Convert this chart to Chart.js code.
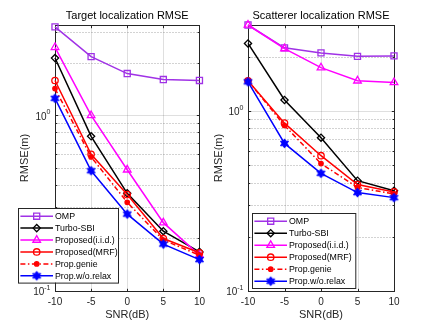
<!DOCTYPE html>
<html>
<head>
<meta charset="utf-8">
<script src="https://cdn.jsdelivr.net/npm/chart.js@4.4.0/dist/chart.umd.min.js"></script>
<style>
html, body { margin: 0; padding: 0; background: #fff; }
body { width: 436px; height: 327px; position: relative; overflow: hidden; }
canvas { position: absolute; top: 0; }
</style>
</head>
<body>
<canvas id="left" width="210" height="327" style="left:0"></canvas>
<canvas id="right" width="231" height="327" style="left:205px"></canvas>
<script>
// SNR (dB) on the x axis
const snr = [-10, -5, 0, 5, 10];
const xTickValues = [-10, -5, 0, 5, 10];
const yTickValues = [0.1, 1];
const seriesNames = ['OMP', 'Turbo-SBI', 'Proposed(i.i.d.)', 'Proposed(MRF)', 'Prop.genie', 'Prop.w/o.relax'];

// Target localization RMSE
const targetOmp = [3.19, 2.16, 1.73, 1.60, 1.58];
const targetTurbo = [2.12, 0.76, 0.36, 0.219, 0.167];
const targetIid = [2.44, 1.0, 0.49, 0.245, 0.16];
const targetMrf = [1.58, 0.60, 0.354, 0.199, 0.165];
const targetGenie = [1.42, 0.58, 0.32, 0.195, 0.16];
const targetRelax = [1.25, 0.484, 0.274, 0.185, 0.151];

// Scatterer localization RMSE
const scatOmp = [3.0, 2.24, 2.10, 2.01, 2.02];
const scatTurbo = [2.37, 1.15, 0.71, 0.41, 0.36];
const scatIid = [3.0, 2.22, 1.74, 1.47, 1.44];
const scatMrf = [1.47, 0.855, 0.564, 0.39, 0.355];
const scatGenie = [1.47, 0.83, 0.51, 0.376, 0.346];
const scatRelax = [1.45, 0.66, 0.45, 0.352, 0.33];

const fam = '"Liberation Sans", Arial, Helvetica, sans-serif';
Chart.defaults.font.family = fam;

function hexagram(color, r) {
  const c = document.createElement('canvas');
  const s = Math.ceil(r * 2 + 3);
  c.width = s; c.height = s;
  const g = c.getContext('2d');
  g.fillStyle = color;
  g.strokeStyle = color;
  g.lineWidth = 1;
  g.beginPath();
  for (let k = 0; k < 12; k++) {
    const ang = -Math.PI / 2 + k * Math.PI / 6;
    const rr = k % 2 === 0 ? r : r * 0.577;
    g.lineTo(s / 2 + rr * Math.cos(ang), s / 2 + rr * Math.sin(ang));
  }
  g.closePath();
  g.fill();
  g.stroke();
  return c;
}

const styles = [
  { color: 'rgb(160,50,230)', point: 'rect', radius: 4.3 },
  { color: '#000000', point: 'rectRot', radius: 3.6 },
  { color: '#ff00ff', point: 'triangle', radius: 4.4 },
  { color: '#ff0000', point: 'circle', radius: 3.2 },
  { color: '#ff0000', point: 'circle', radius: 2.2, filled: true, dash: [5, 2.5, 1.5, 2.5] },
  { color: '#0000ff', point: hexagram('#0000ff', 4.6), radius: 4.6 }
];

function makeDatasets(values) {
  return values.map((v, i) => {
    const st = styles[i];
    return {
      label: seriesNames[i],
      data: snr.map((x, j) => ({ x: x, y: v[j] })),
      borderColor: st.color,
      backgroundColor: st.filled ? st.color : 'rgba(0,0,0,0)',
      pointStyle: st.point,
      pointRadius: st.radius,
      pointBorderWidth: 1.3,
      borderWidth: 1.5,
      borderDash: st.dash || [],
      tension: 0,
      clip: false,
      order: values.length - i
    };
  });
}

function drawLegend(chart, cfg) {
  const { ctx, chartArea: a } = chart;
  const left = Math.round(a.left + cfg.dx), top = Math.round(a.bottom - cfg.dyBottom - cfg.h);
  ctx.save();
  ctx.fillStyle = '#fff';
  ctx.fillRect(left, top, cfg.w, cfg.h);
  ctx.strokeStyle = '#262626';
  ctx.lineWidth = 1;
  ctx.strokeRect(left + 0.5, top + 0.5, cfg.w, cfg.h);
  const step = (cfg.h - 15) / 5;
  chart.data.datasets.forEach((ds, i) => {
    const st = styles[i];
    const yy = top + 8.2 + i * step;
    ctx.strokeStyle = st.color;
    ctx.lineWidth = 1.5;
    ctx.setLineDash(st.dash || []);
    ctx.beginPath();
    ctx.moveTo(left + 2.4, yy);
    ctx.lineTo(left + 35, yy);
    ctx.stroke();
    ctx.setLineDash([]);
    ctx.lineWidth = 1.3;
    ctx.fillStyle = st.filled ? st.color : 'rgba(0,0,0,0)';
    Chart.helpers.drawPoint(ctx, { pointStyle: st.point, radius: st.radius, rotation: 0, borderWidth: 1.3 }, left + 18.7, yy);
    ctx.fillStyle = '#000';
    ctx.font = '8.8px ' + fam;
    ctx.textAlign = 'left';
    ctx.textBaseline = 'middle';
    ctx.fillText(ds.label, left + 37, yy + 0.5);
  });
  ctx.restore();
}

const matlabAxes = {
  id: 'matlabAxes',
  beforeDatasetsDraw(chart) {
    const { ctx, chartArea: a, scales: { x, y } } = chart;
    const L = Math.round(a.left) + 0.5, R = Math.round(a.right) + 0.5;
    const T = Math.round(a.top) + 0.5, B = Math.round(a.bottom) + 0.5;
    const yMax = y.max;
    const minors = [];
    yTickValues.forEach(d => { for (let k = 2; k <= 9; k++) if (k * d < yMax) minors.push(k * d); });
    ctx.save();
    ctx.lineWidth = 1;
    // grid
    ctx.strokeStyle = 'rgba(38,38,38,0.15)';
    ctx.beginPath();
    xTickValues.slice(1, -1).forEach(v => {
      const px = Math.round(x.getPixelForValue(v)) + 0.5;
      ctx.moveTo(px, T); ctx.lineTo(px, B);
    });
    yTickValues.slice(1).forEach(v => {
      const py = Math.round(y.getPixelForValue(v)) + 0.5;
      ctx.moveTo(L, py); ctx.lineTo(R, py);
    });
    ctx.stroke();
    ctx.strokeStyle = 'rgba(38,38,38,0.4)';
    ctx.setLineDash([1, 2]);
    ctx.beginPath();
    minors.forEach(v => {
      const py = Math.round(y.getPixelForValue(v)) + 0.5;
      ctx.moveTo(L, py); ctx.lineTo(R, py);
    });
    ctx.stroke();
    ctx.setLineDash([]);
    // box and ticks
    ctx.strokeStyle = '#262626';
    ctx.strokeRect(L, T, R - L, B - T);
    ctx.beginPath();
    const tl = 2.7;
    xTickValues.forEach(v => {
      const px = Math.round(x.getPixelForValue(v)) + 0.5;
      ctx.moveTo(px, B); ctx.lineTo(px, B - tl);
      ctx.moveTo(px, T); ctx.lineTo(px, T + tl);
    });
    yTickValues.concat(minors).forEach(v => {
      const py = Math.round(y.getPixelForValue(v)) + 0.5;
      const len = yTickValues.includes(v) ? tl : 1.8;
      ctx.moveTo(L, py); ctx.lineTo(L + len, py);
      ctx.moveTo(R, py); ctx.lineTo(R - len, py);
    });
    ctx.stroke();
    ctx.restore();
  },
  afterDraw(chart, args, opts) {
    const { ctx, chartArea: a, scales: { y } } = chart;
    ctx.save();
    ctx.fillStyle = '#262626';
    ctx.textBaseline = 'middle';
    ctx.textAlign = 'left';
    yTickValues.forEach(v => {
      const py = y.getPixelForValue(v);
      const exp = String(Math.round(Math.log10(v)));
      ctx.font = '7px ' + fam;
      const ew = ctx.measureText(exp).width;
      ctx.font = '10px ' + fam;
      const bw = ctx.measureText('10').width;
      const right = a.left - 4.5;
      ctx.fillText('10', right - ew - bw, py + 1.5);
      ctx.font = '7px ' + fam;
      ctx.fillText(exp, right - ew, py - 3);
    });
    ctx.restore();
    drawLegend(chart, opts.legend);
  }
};

function buildChart(id, title, values, yMax, frame) {
  return new Chart(document.getElementById(id), {
    type: 'line',
    data: { datasets: makeDatasets(values) },
    options: {
      responsive: false,
      animation: false,
      events: [],
      layout: { padding: { left: frame.padLeft, right: frame.padRight, top: 0, bottom: 5.4 } },
      plugins: {
        legend: { display: false },
        tooltip: { enabled: false },
        title: {
          display: true, text: title, fullSize: false, color: '#000',
          font: { size: 11, weight: 'normal' }, padding: { top: 9.4, bottom: 2.4 }
        },
        matlabAxes: { legend: frame.legend }
      },
      scales: {
        x: {
          type: 'linear', min: -10, max: 10,
          afterBuildTicks: s => { s.ticks = xTickValues.map(v => ({ value: v })); },
          afterFit: s => { s.height = 30.6; },
          grid: { display: false, drawTicks: false },
          border: { display: false },
          ticks: { color: '#262626', font: { size: 10 }, padding: 5, autoSkip: false, maxRotation: 0 },
          title: { display: true, text: 'SNR(dB)', color: '#262626', font: { size: 11 }, padding: 0 }
        },
        y: {
          type: 'logarithmic', min: 0.1, max: yMax,
          afterFit: s => { s.width = frame.yWidth; },
          grid: { display: false, drawTicks: false },
          border: { display: false },
          ticks: { display: false },
          title: { display: true, text: 'RMSE(m)', color: '#262626', font: { size: 11 }, padding: 0 }
        }
      }
    },
    plugins: [matlabAxes]
  });
}

buildChart('left', 'Target localization RMSE',
  [targetOmp, targetTurbo, targetIid, targetMrf, targetGenie, targetRelax], 3.27,
  { padLeft: 18.4, padRight: 8, yWidth: 36.6, legend: { dx: -36.7, dyBottom: 8.7, w: 100, h: 74.6 } });

buildChart('right', 'Scatterer localization RMSE',
  [scatOmp, scatTurbo, scatIid, scatMrf, scatGenie, scatRelax], 3.0,
  { padLeft: 7.4, padRight: 42, yWidth: 35.6, legend: { dx: 4, dyBottom: 3.3, w: 103.3, h: 75 } });
</script>
</body>
</html>
